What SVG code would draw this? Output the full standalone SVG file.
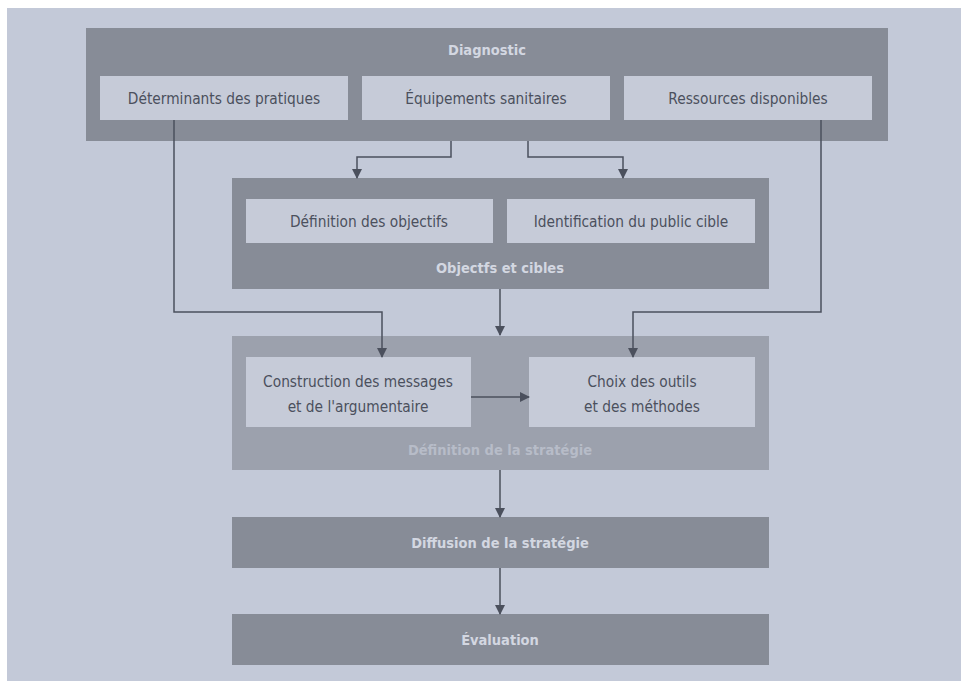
<svg xmlns="http://www.w3.org/2000/svg" width="961" height="681" viewBox="0 0 961 681">
<style>
.dark{fill:#878c97}
.mid{fill:#9ca1ad}
.inner{fill:#c6cbd8}
.t{font-family:"DejaVu Sans Condensed","DejaVu Sans",sans-serif;font-stretch:condensed;font-size:15.3px;fill:#4b505d;text-anchor:middle}
.h{font-family:"DejaVu Sans Condensed","DejaVu Sans",sans-serif;font-stretch:condensed;font-size:14.5px;font-weight:bold;fill:#d3d7e1;text-anchor:middle}
.h2{fill:#b7bcc8}
.c{fill:none;stroke:#4b505d;stroke-width:1.5}
</style>
<defs>
<marker id="ah" viewBox="0 0 10 10" refX="9" refY="5" markerWidth="10" markerHeight="10" markerUnits="userSpaceOnUse" orient="auto">
<path d="M0,0 L10,5 L0,10 z" fill="#4b505d"/>
</marker>
</defs>
<rect x="0" y="0" width="961" height="681" fill="#ffffff"/>
<rect x="7" y="8" width="954" height="673" fill="#c3c9d8"/>

<g id="diagnostic">
<rect class="dark" x="86" y="28" width="802" height="113"/>
<text class="h" x="487" y="55">Diagnostic</text>
</g>
<g id="determinants">
<rect class="inner" x="100" y="76" width="248" height="44"/>
<text class="t" x="224" y="104">Déterminants des pratiques</text>
</g>
<g id="equipements">
<rect class="inner" x="362" y="76" width="248" height="44"/>
<text class="t" x="486" y="104">Équipements sanitaires</text>
</g>
<g id="ressources">
<rect class="inner" x="624" y="76" width="248" height="44"/>
<text class="t" x="748" y="104">Ressources disponibles</text>
</g>

<g id="objectifs">
<rect class="dark" x="232" y="178" width="537" height="111"/>
<text class="h" x="500" y="273">Objectfs et cibles</text>
</g>
<g id="definition-objectifs">
<rect class="inner" x="246" y="199" width="247" height="44"/>
<text class="t" x="369" y="227">Définition des objectifs</text>
</g>
<g id="identification">
<rect class="inner" x="507" y="199" width="248" height="44"/>
<text class="t" x="631" y="227">Identification du public cible</text>
</g>

<g id="strategie">
<rect class="mid" x="232" y="336" width="537" height="134"/>
<text class="h h2" x="500" y="455">Définition de la stratégie</text>
</g>
<g id="construction">
<rect class="inner" x="246" y="357" width="225" height="70"/>
<text class="t" x="358" y="387">Construction des messages</text>
<text class="t" x="358" y="412">et de l'argumentaire</text>
</g>
<g id="choix">
<rect class="inner" x="529" y="357" width="226" height="70"/>
<text class="t" x="642" y="387">Choix des outils</text>
<text class="t" x="642" y="412">et des méthodes</text>
</g>

<g id="diffusion">
<rect class="dark" x="232" y="517" width="537" height="51"/>
<text class="h" x="500" y="548">Diffusion de la stratégie</text>
</g>
<g id="evaluation">
<rect class="dark" x="232" y="614" width="537" height="51"/>
<text class="h" x="500" y="645">Évaluation</text>
</g>

<g id="connectors">
<polyline class="c" points="451,141 451,157 357,157 357,178" marker-end="url(#ah)"/>
<polyline class="c" points="528,141 528,157 623,157 623,178" marker-end="url(#ah)"/>
<polyline class="c" points="174,120 174,312 382,312 382,357" marker-end="url(#ah)"/>
<polyline class="c" points="821,120 821,312 633,312 633,357" marker-end="url(#ah)"/>
<polyline class="c" points="500,289 500,335" marker-end="url(#ah)"/>
<polyline class="c" points="471,397 529,397" marker-end="url(#ah)"/>
<polyline class="c" points="500,470 500,517" marker-end="url(#ah)"/>
<polyline class="c" points="500,568 500,614" marker-end="url(#ah)"/>
</g>
</svg>
